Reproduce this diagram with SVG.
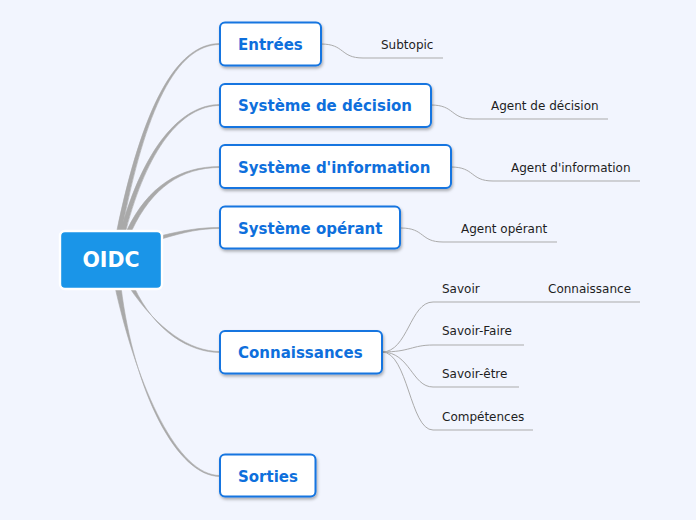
<svg xmlns="http://www.w3.org/2000/svg" width="696" height="520" viewBox="0 0 696 520">
<defs>
<filter id="sh" x="-10%" y="-20%" width="130%" height="160%">
<feDropShadow dx="1" dy="2" stdDeviation="1.5" flood-color="#000" flood-opacity="0.3"/>
</filter>
<style>
.main{fill:#a9a9a9;stroke:#a9a9a9;stroke-width:0.6;stroke-linejoin:round}
.sub{fill:none;stroke:#ababab;stroke-width:1}
.box{fill:#fff;stroke:#1374e0;stroke-width:2}
.t1{font-family:"DejaVu Sans",Verdana,sans-serif;font-weight:bold;font-size:15px;fill:#0e6fdc}
.t2{font-family:"DejaVu Sans",Verdana,sans-serif;font-size:12px;fill:#1e1e1e}
</style>
</defs>
<rect width="696" height="520" fill="#f2f5fe"/>
<g id="connectors">
<path class="main" d="M117,230 C142,110 175,43.5 220,43.5 L220,44.5 C176,44.5 145,110 122,230 Z"/>
<path class="main" d="M121,230 C143,150 180,104.5 220,104.5 L220,105.5 C181,105.5 147,150 126,230 Z"/>
<path class="main" d="M127,230 C148,186 180,166.5 220,166.5 L220,167.5 C181,167.5 152,188 132,230 Z"/>
<path class="main" d="M162,235.5 C185,230 200,227.5 220,227.5 L220,228.5 C200,228.5 185,232 163,238.5 Z"/>
<path class="main" d="M129,287 C158,330 190,351.5 220,351.5 L220,352.5 C190,352.5 155,332 134,287 Z"/>
<path class="main" d="M115,287 C138,390 178,475.5 220,475.5 L220,476.5 C177,476.5 134,392 121,287 Z"/>
<path class="sub" d="M321,44 C345,44 340,58 363,58 L443,58"/>
<path class="sub" d="M431,105 C455,105 450,119 473,119 L608,119"/>
<path class="sub" d="M451,167 C475,167 470,181 493,181 L640,181"/>
<path class="sub" d="M401,228 C425,228 420,242 443,242 L557,242"/>
<path class="sub" d="M382,352 C408,352 410,302 433,302 L640,302"/>
<path class="sub" d="M382,352 C410,352 412,345 433,345 L524,345"/>
<path class="sub" d="M382,352 C410,352 412,387 433,387 L519,387"/>
<path class="sub" d="M382,352 C408,352 410,430 433,430 L533,430"/>
</g>
<g id="n-oidc">
<rect x="60" y="231" width="102" height="58" rx="5" fill="#1a95e8" stroke="#fff" stroke-width="2.4"/>
<text x="111" y="267" text-anchor="middle" font-family="DejaVu Sans,Verdana,sans-serif" font-weight="bold" font-size="20.5" fill="#fff">OIDC</text>
</g>
<g id="n-entrees">
<rect class="box" filter="url(#sh)" x="220" y="22.5" width="101" height="43" rx="5"/>
<text class="t1" x="238" y="50">Entrées</text>
</g>
<g id="n-decision">
<rect class="box" filter="url(#sh)" x="220" y="84" width="211" height="43" rx="5"/>
<text class="t1" x="238" y="111">Système de décision</text>
</g>
<g id="n-information">
<rect class="box" filter="url(#sh)" x="220" y="145" width="231" height="43" rx="5"/>
<text class="t1" x="238" y="172.5">Système d'information</text>
</g>
<g id="n-operant">
<rect class="box" filter="url(#sh)" x="220" y="206.5" width="180" height="42" rx="5"/>
<text class="t1" x="238" y="233.5">Système opérant</text>
</g>
<g id="n-connaissances">
<rect class="box" filter="url(#sh)" x="220" y="331" width="162" height="42.5" rx="5"/>
<text class="t1" x="238" y="357.5">Connaissances</text>
</g>
<g id="n-sorties">
<rect class="box" filter="url(#sh)" x="220" y="454.5" width="95.5" height="42" rx="5"/>
<text class="t1" x="238" y="481.5">Sorties</text>
</g>
<g id="n-subtopic"><text class="t2" x="381" y="49">Subtopic</text></g>
<g id="n-agent-decision"><text class="t2" x="491" y="110">Agent de décision</text></g>
<g id="n-agent-information"><text class="t2" x="511" y="172">Agent d'information</text></g>
<g id="n-agent-operant"><text class="t2" x="461" y="233">Agent opérant</text></g>
<g id="n-savoir"><text class="t2" x="442" y="293">Savoir</text></g>
<g id="n-connaissance"><text class="t2" x="548" y="293">Connaissance</text></g>
<g id="n-savoir-faire"><text class="t2" x="442" y="335">Savoir-Faire</text></g>
<g id="n-savoir-etre"><text class="t2" x="442" y="378">Savoir-être</text></g>
<g id="n-competences"><text class="t2" x="442" y="421">Compétences</text></g>
</svg>
